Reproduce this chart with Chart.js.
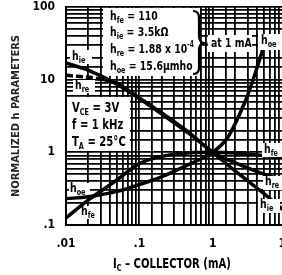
<!DOCTYPE html>
<html><head><meta charset="utf-8">
<script src="https://cdn.jsdelivr.net/npm/chart.js@4/dist/chart.umd.min.js"></script>
<style>
html,body{margin:0;padding:0;background:#fff;overflow:hidden;width:282px;height:275px}
canvas{display:block}
</style></head>
<body>
<canvas id="c" width="292" height="275"></canvas>
<script>
// Data (normalized to 1 at Ic = 1 mA)
const currentMA   = [0.01, 0.02, 0.05, 0.1, 0.2, 0.5, 1, 2, 5, 10];
const hieValues   = [17, 13.5, 8.6, 5.5, 3.4, 1.75, 1, 0.56, 0.27, 0.15];
const hfeValues   = [0.125, 0.22, 0.42, 0.7, 0.88, 0.99, 1, 0.98, 0.9, 0.84];
const hreCurrentMA = [0.01, 0.03, 0.05, 0.1, 0.2, 0.5, 1, 2, 5, 10];
const hreValues   = [11.5, 10.2, 8.8, 5.6, 3.5, 1.8, 1, 0.72, 0.5, 0.4];
const hoeCurrentMA = [0.01, 0.02, 0.05, 0.1, 0.2, 0.5, 1, 1.6, 2.7, 3.3, 4.9, 5.4];
const hoeValues   = [0.23, 0.245, 0.29, 0.36, 0.46, 0.7, 1, 1.6, 4.7, 8, 27, 36];
const xTickLabels = {0.01: '.01', 0.1: '.1', 1: '1', 10: '10'};
const yTickLabels = {0.1: '.1', 1: '1', 10: '10', 100: '100'};

const FONT = "'DejaVu Sans Condensed', 'DejaVu Sans', sans-serif";
const SX = 0.8; // extra-condensed look

function pts(xs, ys){ return xs.map((x,i)=>({x:x, y:ys[i]})); }

function drawParts(ctx, x, y, parts, size){
  ctx.save();
  ctx.translate(x, y);
  ctx.scale(SX, 1);
  let cx = 0;
  for (const [t, m] of parts){
    let fs = size, dy = 0;
    if (m === 'sub'){ fs = Math.round(size*0.66); dy = size*0.3; }
    if (m === 'sup'){ fs = Math.round(size*0.62); dy = -size*0.38; }
    ctx.font = 'bold ' + fs + 'px ' + FONT;
    ctx.fillText(t, cx, dy);
    cx += ctx.measureText(t).width;
  }
  ctx.restore();
  return cx * SX;
}
function whiteBox(ctx, x, y, w, h){ ctx.fillStyle = '#fff'; ctx.fillRect(x, y, w, h); ctx.fillStyle = '#000'; }

const annotate = {
  id: 'annotate',
  beforeDatasetsDraw(chart){
    const ctx = chart.ctx;
    ctx.save();
    ctx.textBaseline = 'middle';
    ctx.textAlign = 'left';
    // upper parameter box
    whiteBox(ctx, 103, 8, 97, 68);
    drawParts(ctx, 110, 17, [['h','n'],['fe','sub'],[' = 110','n']], 13);
    drawParts(ctx, 110, 33, [['h','n'],['ie','sub'],[' = 3.5k\u03A9','n']], 13);
    drawParts(ctx, 110, 50, [['h','n'],['re','sub'],[' = 1.88 x 10','n'],['-4','sup']], 13);
    drawParts(ctx, 110, 67, [['h','n'],['oe','sub'],[' = 15.6\u03BCmho','n']], 13);
    // brace
    ctx.strokeStyle = '#000'; ctx.lineWidth = 2.2;
    ctx.beginPath();
    ctx.moveTo(193, 11);
    ctx.quadraticCurveTo(199, 11, 199, 18);
    ctx.lineTo(199, 36);
    ctx.quadraticCurveTo(199, 42, 204, 43);
    ctx.quadraticCurveTo(199, 44, 199, 50);
    ctx.lineTo(199, 68);
    ctx.quadraticCurveTo(199, 74, 193, 74);
    ctx.stroke();
    // at 1 mA
    whiteBox(ctx, 208, 35, 44, 17);
    drawParts(ctx, 211, 44, [['at 1 mA','n']], 13);
    // conditions box
    whiteBox(ctx, 67, 97, 63, 54);
    drawParts(ctx, 72, 108, [['V','n'],['CE','sub'],[' = 3V','n']], 14);
    drawParts(ctx, 72, 125, [['f = 1 kHz','n']], 14);
    drawParts(ctx, 72, 142, [['T','n'],['A','sub'],[' = 25\u00B0C','n']], 14);
    // left curve labels
    whiteBox(ctx, 70, 50, 22, 14);
    drawParts(ctx, 72, 57, [['h','n'],['ie','sub']], 13);
    whiteBox(ctx, 73, 80, 22, 13);
    drawParts(ctx, 75, 86, [['h','n'],['re','sub']], 13);
    whiteBox(ctx, 69, 183, 21, 13);
    drawParts(ctx, 70, 189, [['h','n'],['oe','sub']], 13);
    whiteBox(ctx, 79, 206, 20, 13);
    drawParts(ctx, 81, 212, [['h','n'],['fe','sub']], 13);
    ctx.restore();
  },
  afterDatasetsDraw(chart){
    const ctx = chart.ctx;
    ctx.save();
    ctx.textBaseline = 'middle';
    ctx.textAlign = 'left';
    whiteBox(ctx, 258, 34, 26, 16);
    drawParts(ctx, 261, 41, [['h','n'],['oe','sub']], 13);
    whiteBox(ctx, 262, 143, 24, 14);
    drawParts(ctx, 264, 150, [['h','n'],['fe','sub']], 13);
    whiteBox(ctx, 263, 176, 24, 14);
    drawParts(ctx, 265, 182, [['h','n'],['re','sub']], 13);
    whiteBox(ctx, 258, 199, 22, 14);
    drawParts(ctx, 260, 205, [['h','n'],['ie','sub']], 13);
    // x axis title with subscript
    drawParts(ctx, 113, 264, [['I','n'],['C','sub'],[' \u2013 COLLECTOR (mA)','n']], 14);
    ctx.restore();
  }
};

const lineStyle = {borderColor:'#000', borderWidth:3.5, pointRadius:0, fill:false, cubicInterpolationMode:'monotone'};

new Chart(document.getElementById('c'), {
  type: 'line',
  data: {
    datasets: [
      Object.assign({label:'hie', data: pts(currentMA, hieValues)}, lineStyle),
      Object.assign({label:'hre', data: pts(hreCurrentMA, hreValues),
        segment:{borderDash: c => c.p0DataIndex === 0 ? [7,3] : undefined}}, lineStyle),
      Object.assign({label:'hfe', data: pts(currentMA, hfeValues)}, lineStyle),
      Object.assign({label:'hoe', data: pts(hoeCurrentMA, hoeValues)}, lineStyle)
    ]
  },
  options: {
    responsive: false,
    animation: false,
    events: [],
    layout: {padding: {top: 7, right: 6, left: 0, bottom: 0}},
    plugins: {legend:{display:false}, tooltip:{enabled:false}},
    scales: {
      x: {
        type: 'logarithmic', min: 0.01, max: 10,
        afterFit(s){ s.height = 50; s.paddingLeft = 0; s.paddingRight = 0; },
        border: {display: true, color:'#000', width: 2},
        grid: {color:'#000', lineWidth: 1.8, drawTicks: false},
        ticks: {autoSkip:false, maxRotation:0, padding: 12, color:'#000',
          font:{family: FONT, size: 12, weight:'bold'},
          callback: v => xTickLabels[+v.toPrecision(3)] || ''}
      },
      y: {
        type: 'logarithmic', min: 0.1, max: 100,
        afterFit(s){ s.width = 66; s.paddingTop = 0; s.paddingBottom = 0; },
        border: {display: true, color:'#000', width: 2},
        grid: {color:'#000', lineWidth: 1.8, drawTicks: false},
        ticks: {autoSkip:false, padding: 11, color:'#000',
          font:{family: FONT, size: 12, weight:'bold'},
          callback: v => yTickLabels[+v.toPrecision(3)] || ''},
        title: {display: true, text: 'NORMALIZED h PARAMETERS', color:'#222',
          padding: {top: 10, bottom: 0},
          font:{family: FONT, size: 11, weight:'bold'}}
      }
    }
  },
  plugins: [annotate]
});
</script>
</body></html>
